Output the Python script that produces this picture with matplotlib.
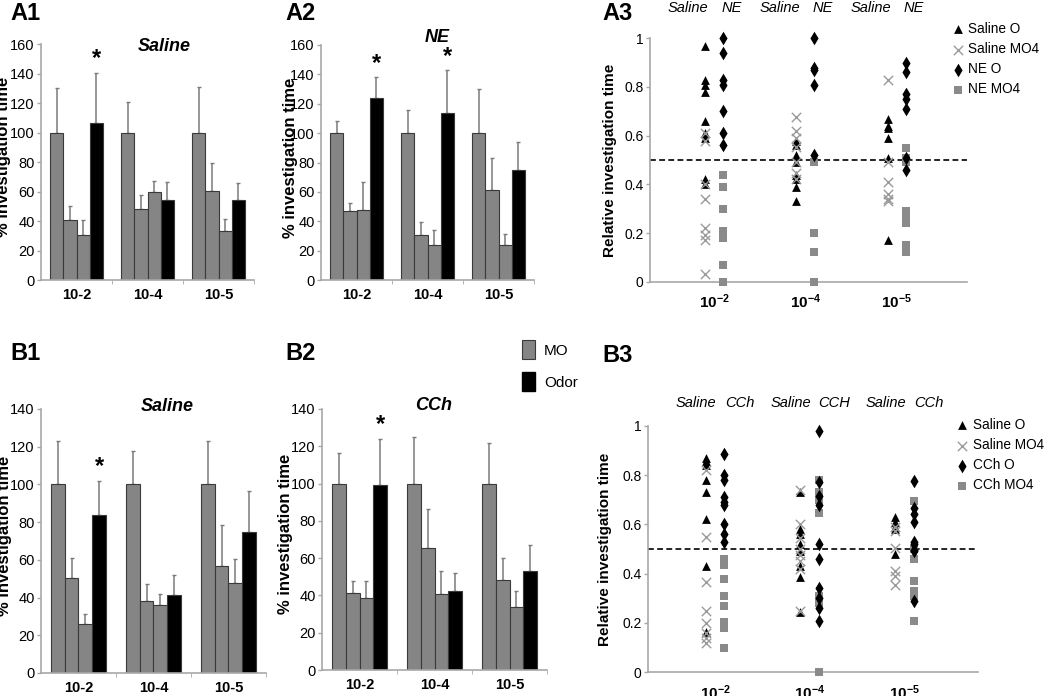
import numpy as np
import matplotlib.pyplot as plt
from matplotlib.patches import Patch

plt.rcParams['font.family'] = ['Liberation Sans', 'DejaVu Sans']
plt.rcParams['mathtext.fontset'] = 'custom'
plt.rcParams['mathtext.rm'] = 'Liberation Sans'
plt.rcParams['mathtext.bf'] = 'Liberation Sans:bold'

# concentrations
bar_conc = ['10-2', '10-4', '10-5']
sc_conc = [r'$\mathbf{10^{-2}}$', r'$\mathbf{10^{-4}}$', r'$\mathbf{10^{-5}}$']

# % investigation time, 4 bars per concentration (MO, MO, MO, Odor) and upper SEM
a1_mean = [[100, 40.8, 30.8, 106.6], [100, 48.3, 59.6, 54.2], [100, 60.5, 33.3, 54.2]]
a1_err = [[30, 9.5, 9.6, 34], [21, 9.5, 7.3, 12], [30.6, 19.1, 8, 11.8]]
a2_mean = [[100, 46.8, 48, 123.9], [100, 30.9, 23.6, 114], [100, 61.6, 23.6, 74.8]]
a2_err = [[8.4, 5.7, 18.8, 14.1], [15.9, 8.9, 10.5, 28.7], [30.2, 21.8, 7.8, 19.2]]
b1_mean = [[100, 50.3, 26.2, 83.9], [100, 38.4, 35.8, 41.2], [100.4, 56.8, 47.6, 74.7]]
b1_err = [[23.2, 10.7, 5, 17.9], [17.7, 8.9, 6, 10.8], [22.8, 21.8, 12.6, 21.9]]
b2_mean = [[100, 41.1, 38.8, 99.1], [99.6, 65.4, 40.9, 42.5], [100, 48.2, 33.9, 52.9]]
b2_err = [[16.3, 6.9, 8.7, 24.7], [25.2, 20.9, 12.1, 9.6], [22, 11.8, 8.4, 14.1]]

# relative investigation time, per concentration
a3_sal_o = [[0.97, 0.83, 0.81, 0.78, 0.66, 0.61, 0.59, 0.42, 0.40],
            [0.58, 0.56, 0.52, 0.49, 0.44, 0.42, 0.39, 0.33],
            [0.67, 0.64, 0.63, 0.59, 0.51, 0.17]]
a3_sal_mo4 = [[0.61, 0.58, 0.40, 0.34, 0.22, 0.19, 0.17, 0.03],
              [0.675, 0.62, 0.59, 0.555, 0.49, 0.445, 0.42],
              [0.83, 0.49, 0.41, 0.36, 0.34, 0.33]]
a3_ne_o = [[1.0, 0.94, 0.83, 0.81, 0.70, 0.61, 0.56],
           [1.0, 0.877, 0.87, 0.81, 0.52],
           [0.9, 0.86, 0.77, 0.75, 0.71, 0.51, 0.46]]
a3_ne_mo4 = [[0.44, 0.39, 0.30, 0.21, 0.18, 0.07, 0.0],
             [0.49, 0.2, 0.12, 0.0],
             [0.55, 0.51, 0.49, 0.29, 0.26, 0.24, 0.15, 0.12]]

b3_sal_o = [[0.87, 0.855, 0.84, 0.78, 0.73, 0.62, 0.43, 0.165],
            [0.73, 0.58, 0.56, 0.52, 0.49, 0.43, 0.385, 0.245],
            [0.63, 0.61, 0.59, 0.58, 0.48]]
b3_sal_mo4 = [[0.82, 0.55, 0.365, 0.25, 0.2, 0.16, 0.14, 0.12],
              [0.74, 0.6, 0.545, 0.5, 0.475, 0.45, 0.42, 0.25],
              [0.59, 0.575, 0.505, 0.41, 0.39, 0.355]]
b3_cch_o = [[0.885, 0.80, 0.78, 0.71, 0.69, 0.68, 0.60, 0.56, 0.53],
            [0.98, 0.77, 0.715, 0.68, 0.52, 0.46, 0.34, 0.30, 0.26, 0.21],
            [0.775, 0.665, 0.64, 0.61, 0.53, 0.52, 0.495, 0.49, 0.29]]
b3_cch_mo4 = [[0.46, 0.435, 0.38, 0.31, 0.27, 0.205, 0.18, 0.10],
              [0.78, 0.73, 0.70, 0.645, 0.31, 0.28, 0.0],
              [0.695, 0.5, 0.46, 0.37, 0.33, 0.31, 0.21]]

GRAY = '#858585'
AXC = '#a8a8a8'
W, H = 1050, 696


def px_axes(l, r, top, bot):
    return [l / W, 1 - bot / H, (r - l) / W, (bot - top) / H]


def style_axes(ax):
    for s in ['top', 'right']:
        ax.spines[s].set_visible(False)
    for s in ['left', 'bottom']:
        ax.spines[s].set_color(AXC)
        ax.spines[s].set_linewidth(1.2)
    ax.tick_params(axis='y', colors=AXC, labelcolor='black', length=3, width=1, pad=1.5)


def bar_panel(ax, means, errs, ymax, title, tx, ty, stars, ylab_x):
    means = np.array(means)
    errs = np.array(errs)
    w = 0.184
    for g in range(3):
        for i in range(4):
            x = g + (i - 1.5) * w
            col = 'black' if i == 3 else GRAY
            ax.bar(x, means[g, i], w, color=col, edgecolor='#3a3a3a', linewidth=0.8, zorder=2)
            ax.errorbar(x, means[g, i], yerr=[[0], [errs[g, i]]], fmt='none',
                        ecolor='#7a7a7a', elinewidth=1.1, capsize=1.2, capthick=1, zorder=1)
    for g in stars:
        top = means[g, 3] + errs[g, 3]
        ax.annotate('*', (g + 1.5 * w, top), xytext=(0, 2), textcoords='offset points',
                    ha='center', va='bottom', fontsize=17, fontweight='bold')
    style_axes(ax)
    ax.set_xlim(-0.5, 2.5)
    ax.set_ylim(0, ymax)
    ax.set_yticks(np.arange(0, ymax + 1, 20))
    ax.tick_params(axis='y', labelsize=10.5)
    ax.set_xticks(range(3))
    ax.set_xticklabels(bar_conc, fontsize=10.5, fontweight='bold')
    ax.set_xticks([0.5, 1.5, 2.5], minor=True)
    ax.tick_params(axis='x', which='major', length=0, pad=6)
    ax.tick_params(axis='x', which='minor', length=3, color=AXC)
    ax.set_ylabel('% investigation time', fontsize=12, fontweight='bold')
    ax.yaxis.set_label_coords(ylab_x, 0.52)
    ax.text(tx, ty, title, transform=ax.transAxes, ha='center', va='center',
            fontsize=13, fontweight='bold', style='italic')


def scatter_panel(ax, sal_o, sal_mo4, drug_o, drug_mo4, drug, headers, xl, off,
                  hx, hy, leg_xy, ylab_x):
    specs = [
        (sal_o, -off, dict(marker='^', s=40, color='black', linewidths=0), 'Saline O', 3),
        (sal_mo4, -off, dict(marker='x', s=45, color='#9a9a9a', linewidths=1.0), 'Saline MO4', 4),
        (drug_o, off, dict(marker='d', s=48, color='black', linewidths=0), drug + ' O', 6),
        (drug_mo4, off, dict(marker='s', s=26, color='#8a8a8a', linewidths=0), drug + ' MO4', 5),
    ]
    for data, dx, kw, lab, z in specs:
        xs, ys = [], []
        for g, vals in enumerate(data):
            xs += [g + 1 + dx] * len(vals)
            ys += vals
        ax.scatter(xs, ys, label=lab, zorder=z, clip_on=False, **kw)
    ax.axhline(0.5, color='black', lw=1.2, ls=(0, (3.5, 2)), zorder=2)
    style_axes(ax)
    ax.set_xlim(*xl)
    ax.set_ylim(0, 1)
    ax.set_yticks([0, 0.2, 0.4, 0.6, 0.8, 1])
    ax.set_yticklabels(['0', '0.2', '0.4', '0.6', '0.8', '1'])
    ax.tick_params(axis='y', labelsize=10)
    ax.set_xticks([1, 2, 3])
    ax.set_xticklabels(sc_conc, fontsize=11)
    ax.tick_params(axis='x', length=0, pad=8)
    ax.set_ylabel('Relative investigation time', fontsize=11, fontweight='bold')
    ax.yaxis.set_label_coords(ylab_x, 0.5)
    tr = ax.get_xaxis_transform()
    for g in range(3):
        ax.text(g + 1 + hx[0], hy, 'Saline', transform=tr, ha='center', va='center',
                fontsize=10.5, style='italic')
        ax.text(g + 1 + hx[1], hy, headers[g], transform=tr, ha='center', va='center',
                fontsize=10.5, style='italic')
    ax.legend(loc='upper left', bbox_to_anchor=leg_xy, frameon=False, fontsize=9.8,
              handlelength=0.8, handletextpad=0.4, borderpad=0, borderaxespad=0,
              labelspacing=0.45, scatterpoints=1)


fig = plt.figure(figsize=(10.5, 6.96), dpi=100)

ax_a1 = fig.add_axes(px_axes(41, 254, 44, 280))
ax_a2 = fig.add_axes(px_axes(321, 534, 45, 280))
ax_a3 = fig.add_axes(px_axes(650, 967, 38.3, 281.7))
ax_b1 = fig.add_axes(px_axes(41, 266, 409, 673))
ax_b2 = fig.add_axes(px_axes(322, 547, 409, 670))
ax_b3 = fig.add_axes(px_axes(648, 978, 425.7, 672.3))

bar_panel(ax_a1, a1_mean, a1_err, 160, 'Saline', 0.577, 0.99, [0], -0.143)
bar_panel(ax_a2, a2_mean, a2_err, 160, 'NE', 0.546, 1.034, [0, 1], -0.107)
bar_panel(ax_b1, b1_mean, b1_err, 140, 'Saline', 0.561, 1.008, [0], -0.129)
bar_panel(ax_b2, b2_mean, b2_err, 140, 'CCh', 0.494, 1.015, [0], -0.129)

scatter_panel(ax_a3, a3_sal_o, a3_sal_mo4, a3_ne_o, a3_ne_mo4, 'NE', ['NE', 'NE', 'NE'],
              (0.30, 3.77), 0.1, (-0.28, 0.19), 1.124, (0.953, 1.067), -0.104)
scatter_panel(ax_b3, b3_sal_o, b3_sal_mo4, b3_cch_o, b3_cch_mo4, 'CCh', ['CCh', 'CCH', 'CCh'],
              (0.293, 3.776), 0.098, (-0.2, 0.26), 1.092, (0.936, 1.031), -0.109)

# MO / Odor legend
fig.legend(handles=[Patch(facecolor=GRAY, edgecolor='#3a3a3a', lw=0.8, label='MO'),
                    Patch(facecolor='black', edgecolor='black', label='Odor')],
           loc='upper left', bbox_to_anchor=(522 / W, 1 - 340 / H), frameon=False,
           fontsize=11, handlelength=0.85, handleheight=1.55, handletextpad=0.6,
           labelspacing=0.85, borderpad=0, borderaxespad=0)

for lab, x, y in [('A1', 10, 14), ('A2', 285, 13), ('A3', 602, 13),
                  ('B1', 10, 354), ('B2', 285, 353), ('B3', 602, 355)]:
    fig.text(x / W, 1 - y / H, lab, ha='left', va='center', fontsize=17, fontweight='bold')

fig.savefig('out.png', dpi=100)
